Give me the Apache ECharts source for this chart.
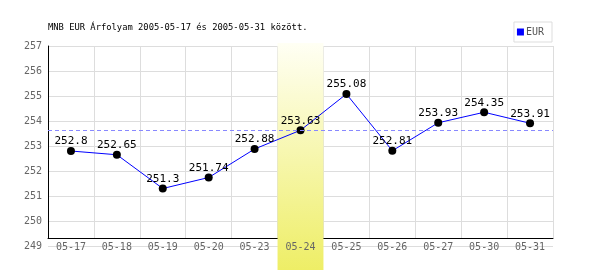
<!DOCTYPE html>
<html><head><meta charset="utf-8">
<script src="https://cdn.jsdelivr.net/npm/echarts@6/dist/echarts.min.js"></script>
<style>html,body{margin:0;padding:0;background:#fff}#c{width:600px;height:270px}</style>
</head><body><div id="c"></div>
<script>
const categories = ['05-17','05-18','05-19','05-20','05-23','05-24','05-25','05-26','05-27','05-30','05-31'];
const eurValues = [252.8, 252.65, 251.3, 251.74, 252.88, 253.63, 255.08, 252.81, 253.93, 254.35, 253.91];
const labelTexts = ['252.8','252.65','251.3','251.74','252.88','253.63','255.08','252.81','253.93','254.35','253.91'];
const highlightIndex = 5;
const refValue = 253.63;
const yMin = 249, yMax = 257, yStep = 1;
const titleText = 'MNB EUR Árfolyam 2005-05-17 és 2005-05-31 között.';
const seriesName = 'EUR';

const mono = 'DejaVu Sans Mono';
const bandData = categories.map((c, i) => i === highlightIndex ? 1 : null);
const chart = echarts.init(document.getElementById('c'), null, {renderer: 'canvas'});
const L = 48, R = 47;
chart.setOption({
  animation: false,
  title: {text: titleText, left: 43, top: 18, textStyle: {fontFamily: mono, fontSize: 8.8, fontWeight: 'normal', color: '#000'}},
  legend: {
    right: 48, top: 22, orient: 'horizontal',
    data: [{name: seriesName, icon: 'rect', itemStyle: {color: '#0000ff'}}],
    itemWidth: 7, itemHeight: 7, itemGap: 2,
    padding: [5, 8, 5, 3],
    borderColor: '#dddddd', borderWidth: 1,
    textStyle: {fontFamily: mono, fontSize: 10, color: '#555', padding: [0, 0, 0, -3]}
  },
  grid: [
    {left: L, right: R, top: 46, bottom: 24},
    {left: L, right: R, top: 46, bottom: 32},
    {left: L, right: R, top: 43, bottom: 0}
  ],
  xAxis: [
    {gridIndex: 0, type: 'category', data: categories, boundaryGap: true,
     axisLine: {show: false}, axisTick: {show: false}, axisLabel: {show: false}, splitLine: {show: false}},
    {gridIndex: 1, type: 'category', data: categories, boundaryGap: true, position: 'bottom', z: 0,
     axisLine: {show: true, lineStyle: {color: '#000', width: 1}}, axisTick: {show: false},
     axisLabel: {show: false},
     splitLine: {show: true, interval: 0, lineStyle: {color: '#dddddd', width: 1}}},
    {gridIndex: 2, type: 'category', data: categories, boundaryGap: true, show: false},
    {gridIndex: 1, type: 'category', data: categories, boundaryGap: true, position: 'bottom', z: 6,
     axisLine: {show: false}, axisTick: {show: false}, splitLine: {show: false},
     axisLabel: {show: true, interval: 0, margin: 4, fontFamily: mono, fontSize: 10, color: '#666'}}
  ],
  yAxis: [
    {gridIndex: 0, type: 'value', min: yMin, max: yMax, interval: yStep,
     axisLine: {show: false}, axisTick: {show: false},
     axisLabel: {margin: 6, fontFamily: mono, fontSize: 10, color: '#666'},
     splitLine: {show: true, lineStyle: {color: '#dddddd', width: 1}}},
    {gridIndex: 1, type: 'value', min: 0, max: 1,
     axisLine: {show: true, lineStyle: {color: '#000', width: 1}}, axisTick: {show: false},
     axisLabel: {show: false}, splitLine: {show: false}},
    {gridIndex: 2, type: 'value', min: 0, max: 1, show: false}
  ],
  series: [
    {type: 'bar', name: 'band', xAxisIndex: 2, yAxisIndex: 2, data: bandData, barWidth: '100%', z: 1,
     silent: true, legendHoverLink: false,
     itemStyle: {color: new echarts.graphic.LinearGradient(0, 0, 0, 1, [
       {offset: 0, color: '#fffff4'}, {offset: 1, color: '#eeee66'}])}},
    {type: 'line', name: seriesName, xAxisIndex: 0, yAxisIndex: 0, data: eurValues, z: 3,
     symbol: 'circle', symbolSize: 8,
     lineStyle: {color: '#0000ff', width: 1},
     itemStyle: {color: '#000'},
     label: {show: true, position: 'top', distance: 0, fontFamily: mono, fontSize: 11, color: '#000',
       formatter: p => labelTexts[p.dataIndex]},
     markLine: {silent: true, symbol: 'none', label: {show: false},
       lineStyle: {color: '#8888ff', type: [4, 3], width: 1},
       data: [{yAxis: refValue}]}}
  ]
});
</script></body></html>
